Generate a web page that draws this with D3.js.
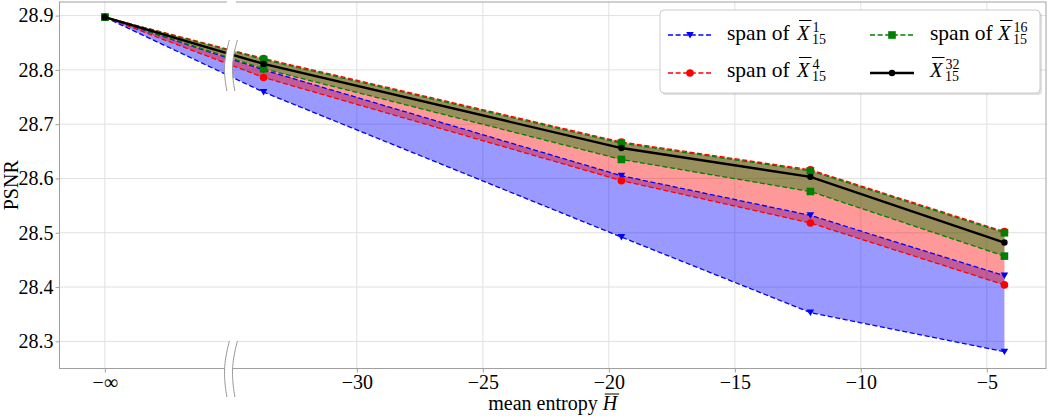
<!DOCTYPE html>
<html><head><meta charset="utf-8">
<script src="https://cdn.jsdelivr.net/npm/d3@7"></script>
<style>
body{margin:0;background:#fff}
svg{display:block}
text{font-family:"Liberation Serif","DejaVu Serif",serif !important;fill:#000}
</style>
</head><body>
<svg id="chart" width="1050" height="416"></svg>
<script>
// ---------------- data ----------------
const entropy = [-Infinity, -33.7, -19.5, -12.0, -4.3];
const negInfPosition = -40;   // where -∞ is placed on the axis
const breakPosition = -35;    // axis break
const xTickValues = [-Infinity, -30, -25, -20, -15, -10, -5];
const xTickLabels = ["−∞", "−30", "−25", "−20", "−15", "−10", "−5"];
const yTickValues = [28.3, 28.4, 28.5, 28.6, 28.7, 28.8, 28.9];
const yTickLabels = ["28.3", "28.4", "28.5", "28.6", "28.7", "28.8", "28.9"];

const spanX1Lower  = [28.897, 28.759, 28.492, 28.353, 28.281];
const spanX1Upper  = [28.897, 28.800, 28.605, 28.532, 28.421];
const spanX4Lower  = [28.897, 28.786, 28.596, 28.518, 28.404];
const spanX4Upper  = [28.897, 28.821, 28.667, 28.616, 28.502];
const spanX16Lower = [28.897, 28.802, 28.635, 28.576, 28.457];
const spanX16Upper = [28.897, 28.819, 28.665, 28.614, 28.500];
const meanX32      = [28.897, 28.811, 28.656, 28.603, 28.482];

// ---------------- layout ----------------
const FONT = "'Liberation Serif','DejaVu Serif',serif";
const svg = d3.select("#chart");
const L = 59.5, R = 1046, T = 2, B = 368.5;
const pos = v => (v === -Infinity ? negInfPosition : v);
const x = d3.scaleLinear().domain([-41.8, -2.65]).range([L, R]);
const y = d3.scaleLinear().domain([28.25, 28.925]).range([B, T]);

function txt(g, xp, yp, s, size, italic) {
  return g.append("text").attr("x", xp).attr("y", yp)
    .style("font-family", FONT).style("font-size", size + "px")
    .style("font-style", italic ? "italic" : "normal").text(s);
}

// grid
const grid = svg.append("g");
xTickValues.forEach(v => grid.append("line")
  .attr("x1", x(pos(v))).attr("x2", x(pos(v))).attr("y1", T).attr("y2", B)
  .attr("stroke", "#e0e0e0").attr("stroke-width", 1));
yTickValues.forEach(v => grid.append("line")
  .attr("x1", L).attr("x2", R).attr("y1", y(v)).attr("y2", y(v))
  .attr("stroke", "#e0e0e0").attr("stroke-width", 1));

// fills
const idx = d3.range(entropy.length);
function area(lo, hi) {
  return d3.area().x(i => x(pos(entropy[i]))).y0(i => y(lo[i])).y1(i => y(hi[i]))(idx);
}
svg.append("path").attr("d", area(spanX1Lower, spanX1Upper)).attr("fill", "blue").attr("fill-opacity", 0.4);
svg.append("path").attr("d", area(spanX4Lower, spanX4Upper)).attr("fill", "red").attr("fill-opacity", 0.4);
svg.append("path").attr("d", area(spanX16Lower, spanX16Upper)).attr("fill", "green").attr("fill-opacity", 0.4);

// markers
function marker(g, type, cx, cy, color) {
  if (type === "tri") {
    const s = 3.8;
    g.append("path").attr("d", `M${cx - s},${cy - s * 0.8}L${cx + s},${cy - s * 0.8}L${cx},${cy + s * 0.9}Z`).attr("fill", color);
  } else if (type === "circ") {
    g.append("circle").attr("cx", cx).attr("cy", cy).attr("r", 3.8).attr("fill", color);
  } else if (type === "sq") {
    g.append("rect").attr("x", cx - 3.8).attr("y", cy - 3.8).attr("width", 7.6).attr("height", 7.6).attr("fill", color);
  } else if (type === "dot") {
    g.append("circle").attr("cx", cx).attr("cy", cy).attr("r", 3.2).attr("fill", color);
  }
}
function series(vals, color, type, dashed) {
  const g = svg.append("g");
  const line = d3.line().x(i => x(pos(entropy[i]))).y(i => y(vals[i]));
  g.append("path").attr("d", line(idx)).attr("fill", "none").attr("stroke", color)
    .attr("stroke-width", dashed ? 1.3 : 2.4)
    .attr("stroke-dasharray", dashed ? "5,2.6" : null);
  idx.forEach(i => marker(g, type, x(pos(entropy[i])), y(vals[i]), color));
}
series(spanX1Lower, "#0000ff", "tri", true);
series(spanX1Upper, "#0000ff", "tri", true);
series(spanX4Lower, "#ff0000", "circ", true);
series(spanX4Upper, "#ff0000", "circ", true);
series(spanX16Lower, "#008000", "sq", true);
series(spanX16Upper, "#008000", "sq", true);
series(meanX32, "#000000", "dot", false);

// frame
const frame = "#a0a0a0";
svg.append("rect").attr("x", L).attr("y", T).attr("width", R - L).attr("height", B - T)
  .attr("fill", "none").attr("stroke", frame).attr("stroke-width", 1);

// axes
const xAxis = svg.append("g").attr("transform", `translate(0,${B})`)
  .call(d3.axisBottom(x).tickValues(xTickValues.map(pos)).tickSize(4).tickPadding(2)
    .tickFormat((d, i) => xTickLabels[i]));
xAxis.attr("font-family", null).attr("font-size", null);
xAxis.select(".domain").remove();
xAxis.selectAll(".tick line").attr("stroke", frame);
xAxis.selectAll("text").style("font-size", "20px").style("font-family", FONT);

const yAxis = svg.append("g").attr("transform", `translate(${L},0)`)
  .call(d3.axisLeft(y).tickValues(yTickValues).tickSize(4).tickPadding(2)
    .tickFormat((d, i) => yTickLabels[i]));
yAxis.attr("font-family", null).attr("font-size", null);
yAxis.select(".domain").remove();
yAxis.selectAll(".tick line").attr("stroke", frame);
yAxis.selectAll("text").style("font-size", "20px").style("font-family", FONT);

// axis break
const bx = x(breakPosition);
svg.append("rect").attr("x", bx - 4).attr("y", T - 1.5).attr("width", 9).attr("height", 3).attr("fill", "#fff");
function wave(xc, y0, y1) {
  return d3.range(0, 1.0001, 0.05).map(t => [xc + 2.5 * (1 - t) - 3.5 * Math.sin(Math.PI * t), y0 + (y1 - y0) * t]);
}
[[40, 91], [341, 397]].forEach(([y0, y1]) => {
  const a = wave(bx - 4, y0, y1), b = wave(bx + 4, y0, y1);
  const poly = a.concat(b.slice().reverse());
  svg.append("path").attr("d", "M" + poly.join("L") + "Z").attr("fill", "#fff");
  svg.append("path").attr("d", d3.line()(a)).attr("fill", "none").attr("stroke", "#999").attr("stroke-width", 1);
  svg.append("path").attr("d", d3.line()(b)).attr("fill", "none").attr("stroke", "#999").attr("stroke-width", 1);
});

// axis titles
{
  const g = svg.append("g");
  const a = txt(g, 0, 410, "mean entropy\u00a0", 20, false);
  const h = txt(g, 0, 410, "H", 20, true);
  const wa = a.node().getComputedTextLength(), wh = h.node().getComputedTextLength();
  const x0 = (L + R) / 2 - (wa + wh) / 2;
  a.attr("x", x0); h.attr("x", x0 + wa);
  g.append("line").attr("x1", x0 + wa + 2).attr("x2", x0 + wa + wh + 2)
    .attr("y1", 394).attr("y2", 394).attr("stroke", "#000").attr("stroke-width", 1);
}
svg.append("text").attr("transform", `translate(17.5,${(T + B) / 2}) rotate(-90)`)
  .attr("text-anchor", "middle").style("font-family", FONT).style("font-size", "20px").text("PSNR");

// legend
const lg = svg.append("g");
lg.append("rect").attr("x", 662).attr("y", 12).attr("width", 380).attr("height", 83).attr("rx", 4)
  .attr("fill", "#000").attr("fill-opacity", 0.12);
lg.append("rect").attr("x", 660).attr("y", 10).attr("width", 380).attr("height", 83).attr("rx", 4)
  .attr("fill", "#fff").attr("stroke", "#cccccc").attr("stroke-width", 1);

function mathLabel(xp, xX, base, prefix, sup, sub) {
  if (prefix) txt(lg, xp, base, prefix, 21.5, false);
  const X = txt(lg, xX, base, "X", 20.5, true);
  const wX = X.node().getComputedTextLength();
  lg.append("line").attr("x1", xX + 2).attr("x2", xX + wX + 2).attr("y1", base - 19).attr("y2", base - 19)
    .attr("stroke", "#000").attr("stroke-width", 1);
  txt(lg, xX + wX + 3, base - 7.5, sup, 14, false);
  txt(lg, xX + wX + 2.5, base + 4, sub, 14, false);
}
function handle(x0, yc, color, type, dashed) {
  lg.append("line").attr("x1", x0).attr("x2", x0 + 44).attr("y1", yc).attr("y2", yc)
    .attr("stroke", color).attr("stroke-width", dashed ? 1.3 : 2.4).attr("stroke-dasharray", dashed ? "5,2.6" : null);
  marker(lg, type, x0 + 22, yc, color);
}
handle(668, 35, "#0000ff", "tri", true);
mathLabel(727, 797, 39.5, "span of", "1", "15");
handle(668, 73, "#ff0000", "circ", true);
mathLabel(727, 797, 76.5, "span of", "4", "15");
handle(870, 35, "#008000", "sq", true);
mathLabel(930, 998, 39.5, "span of", "16", "15");
handle(870, 73, "#000000", "dot", false);
mathLabel(930, 930, 76.5, "", "32", "15");
</script>
</body></html>
